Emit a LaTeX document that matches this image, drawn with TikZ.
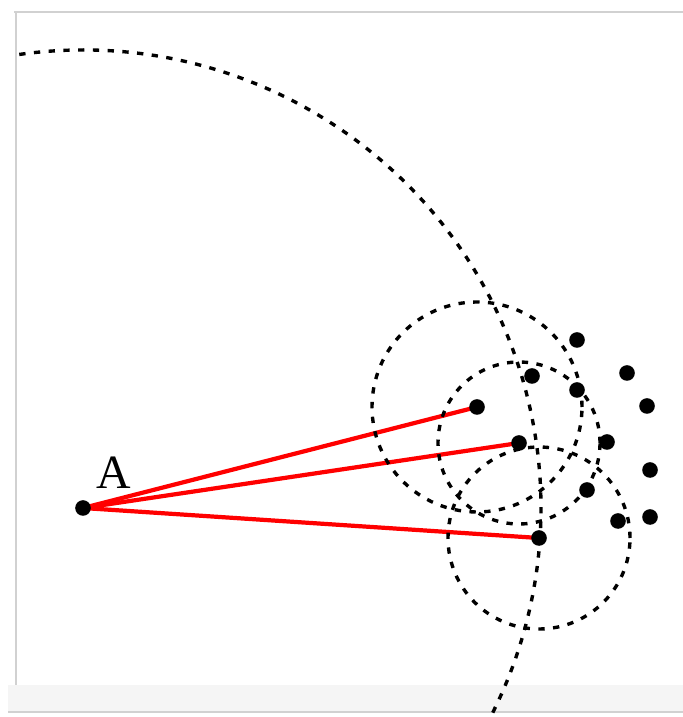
\documentclass[tikz,border=0pt]{standalone}
\usepackage{fontspec}
\setmainfont{Liberation Serif}
\usepackage{tikz}
\usetikzlibrary{positioning, backgrounds}

\begin{document}
\begin{tikzpicture}[
    x=0.025cm, y=0.025cm,
    pt/.style={circle, fill=black, inner sep=0pt, minimum size=0.39cm},
    redline/.style={red, line width=3pt},
    dashcirc/.style={black, line width=2.4pt, dash pattern=on 4.5pt off 6pt},
    frameline/.style={black!18, line width=1.2pt}
]
    \useasboundingbox (0,0) rectangle (683,717);

    % Source point and the three sample points
    \node[pt] (a) at (83,209) {};
    \node[font=\fontsize{34}{40}\selectfont, above right=0.23cm and 0.08cm of a] (lab) {A};
    \node[pt] (p1) at (477,310) {};
    \node[pt] (p2) at (519,274) {};
    \node[pt] (p3) at (539,179) {};

    % Other points
    \node[pt] (d1) at (577,377) {};
    \node[pt] (d2) at (627,344) {};
    \node[pt] (d3) at (532,341) {};
    \node[pt] (d4) at (577,327) {};
    \node[pt] (d5) at (647,311) {};
    \node[pt] (d6) at (607,275) {};
    \node[pt] (d7) at (650,247) {};
    \node[pt] (d8) at (587,227) {};
    \node[pt] (d9) at (618,196) {};
    \node[pt] (d10) at (650,200) {};

    \begin{pgfonlayer}{background}
        % Frame of the screenshot
        \fill[black!4] (8,5) rectangle (683,32);
        \draw[frameline] (14,705) -- (683,705);
        \draw[frameline] (16,705) -- (16,32);
        \draw[frameline] (8,5) -- (683,5);

        % Rays
        \draw[redline] (a.center) -- (p1.center);
        \draw[redline] (a.center) -- (p2.center);
        \draw[redline] (a.center) -- (p3.center);

        % Circles
        \draw[dashcirc] (a.center) ++(98:458) arc[start angle=98, end angle=-26.6, radius=458];
        \draw[dashcirc] (p1.center) circle[radius=105];
        \draw[dashcirc] (p2.center) circle[radius=81];
        \draw[dashcirc] (p3.center) circle[radius=91];
    \end{pgfonlayer}

\end{tikzpicture}
\end{document}
